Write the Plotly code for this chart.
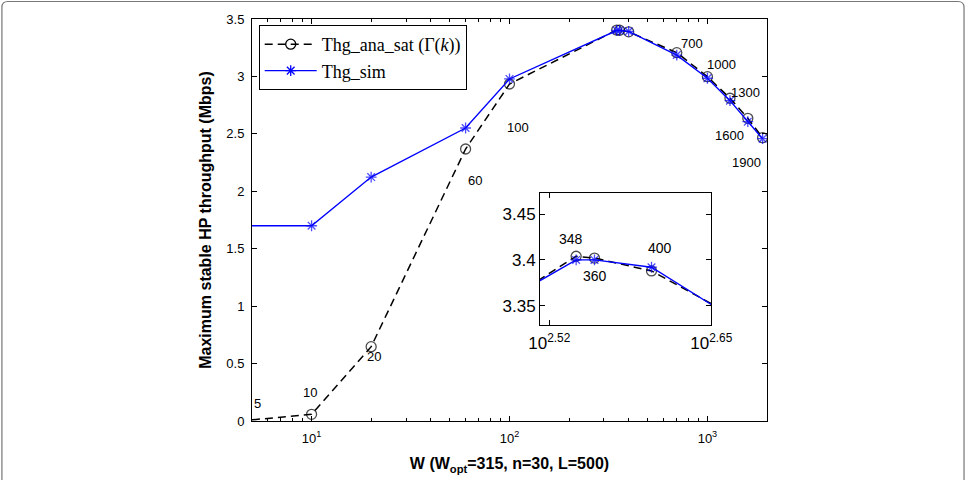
import math
import plotly.graph_objects as go

# ---- data ----
W = [5, 10, 20, 60, 100, 348, 360, 400, 700, 1000, 1300, 1600, 1900]
thg_ana = [0.01, 0.058, 0.647, 2.368, 2.934, 3.404, 3.402, 3.388, 3.207, 2.998, 2.81, 2.635, 2.467]
thg_sim = [1.70, 1.70, 2.124, 2.551, 2.978, 3.400, 3.400, 3.392, 3.186, 2.984, 2.789, 2.606, 2.458]
point_labels = ["5", "10", "20", "60", "100", "", "", "", "700", "1000", "1300", "1600", "1900"]
inset_labels = {348: "348", 360: "360", 400: "400"}
x_tickvals = [10, 100, 1000]
x_ticktext = ["10<sup>1</sup>", "10<sup>2</sup>", "10<sup>3</sup>"]
x_minor = [6, 7, 8, 9, 20, 30, 40, 50, 60, 70, 80, 90, 200, 300, 400, 500, 600, 700, 800, 900, 2000]
inset_xtick_exp = [2.52, 2.65]
inset_ytick = [3.35, 3.4, 3.45]

# ---- style ----
BLUE = "#0000ff"
FONT = "Liberation Sans, Arial, sans-serif"
SERIF = "Liberation Serif, DejaVu Serif, serif"
ANA_SIZE, SIM_SIZE = 10, 9
ana_sizes = [0] + [ANA_SIZE] * (len(W) - 1)
sim_sizes = [0] + [SIM_SIZE] * (len(W) - 1)
# label pixel offsets (xshift, yshift) relative to the analytic point
label_shift = [(5, 16), (-2, 22), (3, -10), (9, -31), (8, -43), None, None, None,
               (15, 9), (14, 12), (16, 6), (-18, -17), (-16, -25)]
inset_shift = {348: (-5, 17), 360: (1, -18), 400: (8, 23)}

ana_line = dict(color="black", width=1.5, dash="8px,5px")
sim_line = dict(color=BLUE, width=1.4)

fig = go.Figure()

def add_traces(xa, ya):
    fig.add_trace(go.Scatter(
        x=W, y=thg_ana, xaxis=xa, yaxis=ya, mode="lines+markers", showlegend=False,
        line=ana_line,
        marker=dict(symbol="circle-open", size=ana_sizes, color="black", line=dict(width=1.3)),
    ))
    fig.add_trace(go.Scatter(
        x=W, y=thg_sim, xaxis=xa, yaxis=ya, mode="lines+markers", showlegend=False,
        line=sim_line,
        marker=dict(symbol="asterisk-open", size=sim_sizes, color=BLUE, line=dict(width=1.3, color=BLUE)),
    ))

add_traces("x", "y")
add_traces("x2", "y2")

# legend-only entries (constant marker size)
fig.add_trace(go.Scatter(x=[None], y=[None], mode="lines+markers",
                         name="Thg_ana_sat (Γ(<i>k</i>))", line=ana_line,
                         marker=dict(symbol="circle-open", size=ANA_SIZE, color="black", line=dict(width=1.3))))
fig.add_trace(go.Scatter(x=[None], y=[None], mode="lines+markers",
                         name="Thg_sim", line=sim_line,
                         marker=dict(symbol="asterisk-open", size=SIM_SIZE, color=BLUE,
                                     line=dict(width=1.3, color=BLUE))))

annotations = []
for w, v, lab, sh in zip(W, thg_ana, point_labels, label_shift):
    if lab and sh:
        annotations.append(dict(x=math.log10(w), y=v, xref="x", yref="y", text=lab,
                                showarrow=False, xshift=sh[0], yshift=sh[1],
                                font=dict(family=FONT, size=13, color="black")))
for w, v in zip(W, thg_ana):
    if w in inset_labels:
        sh = inset_shift[w]
        annotations.append(dict(x=math.log10(w), y=v, xref="x2", yref="y2", text=inset_labels[w],
                                showarrow=False, xshift=sh[0], yshift=sh[1],
                                font=dict(family=FONT, size=14, color="black")))

axis_common = dict(showline=True, linecolor="black", linewidth=1, mirror="ticks", ticks="inside",
                   tickcolor="black", showgrid=False, zeroline=False)

# plot area in pixels
L, R, T, B = 252.3, 766.7, 19.0, 421.0
PW, PH = R - L, B - T
def px(xp): return (xp - L) / PW
def py(yp): return (B - yp) / PH

# figure border (rounded top corners)
rx, ry = 6 / PW, 6 / PH
xl, xr, yt, yb = px(2.5), px(963.5), py(1.5), py(490)
border_path = (f"M {xl},{yb} L {xl},{yt - ry} Q {xl},{yt} {xl + rx},{yt} "
               f"L {xr - rx},{yt} Q {xr},{yt} {xr},{yt - ry} L {xr},{yb}")

fig.update_layout(
    width=966, height=480,
    margin=dict(l=L, r=966 - R, t=T, b=480 - B, autoexpand=False),
    paper_bgcolor="white", plot_bgcolor="white",
    font=dict(family=FONT, size=13, color="black"),
    xaxis=dict(type="log", range=[math.log10(5), math.log10(2000)], domain=[0, 1],
               tickvals=x_tickvals, ticktext=x_ticktext, ticklen=5, ticklabelstandoff=5,
               tickfont=dict(family=FONT, size=13),
               minor=dict(tickvals=x_minor, ticks="inside", ticklen=3, tickcolor="black", showgrid=False),
               title=dict(text="<b>W (W<sub>opt</sub>=315, n=30, L=500)</b>",
                          font=dict(family=FONT, size=16), standoff=13),
               **axis_common),
    yaxis=dict(range=[0, 3.5], dtick=0.5, tick0=0, ticklen=5, domain=[0, 1], ticklabelstandoff=4,
               tickfont=dict(family=FONT, size=13),
               title=dict(text="<b>Maximum stable HP throughput (Mbps)</b>",
                          font=dict(family=FONT, size=16), standoff=10),
               **axis_common),
    xaxis2=dict(type="log", range=[2.5126, 2.65], domain=[px(540), px(711)], anchor="y2",
                tickvals=[10 ** e for e in inset_xtick_exp],
                ticktext=[f"10<sup>{e}</sup>" for e in inset_xtick_exp], ticklen=5,
                ticklabelstandoff=3,
                tickfont=dict(family=FONT, size=17), **axis_common),
    yaxis2=dict(range=[3.329, 3.473], domain=[py(325), py(193)], anchor="x2",
                tickvals=inset_ytick, ticktext=["3.35", "3.4", "3.45"], ticklen=5,
                tickfont=dict(family=FONT, size=17), **axis_common),
    legend=dict(x=px(259), y=py(25), xanchor="left", yanchor="top",
                bgcolor="white", bordercolor="black", borderwidth=1,
                font=dict(family=SERIF, size=18, color="black"),
                itemwidth=52, tracegroupgap=0),
    annotations=annotations,
    shapes=[dict(type="path", path=border_path, xref="paper", yref="paper",
                 line=dict(color="#777777", width=1.2), layer="above")],
    showlegend=True,
)

fig.write_html("out.html")
